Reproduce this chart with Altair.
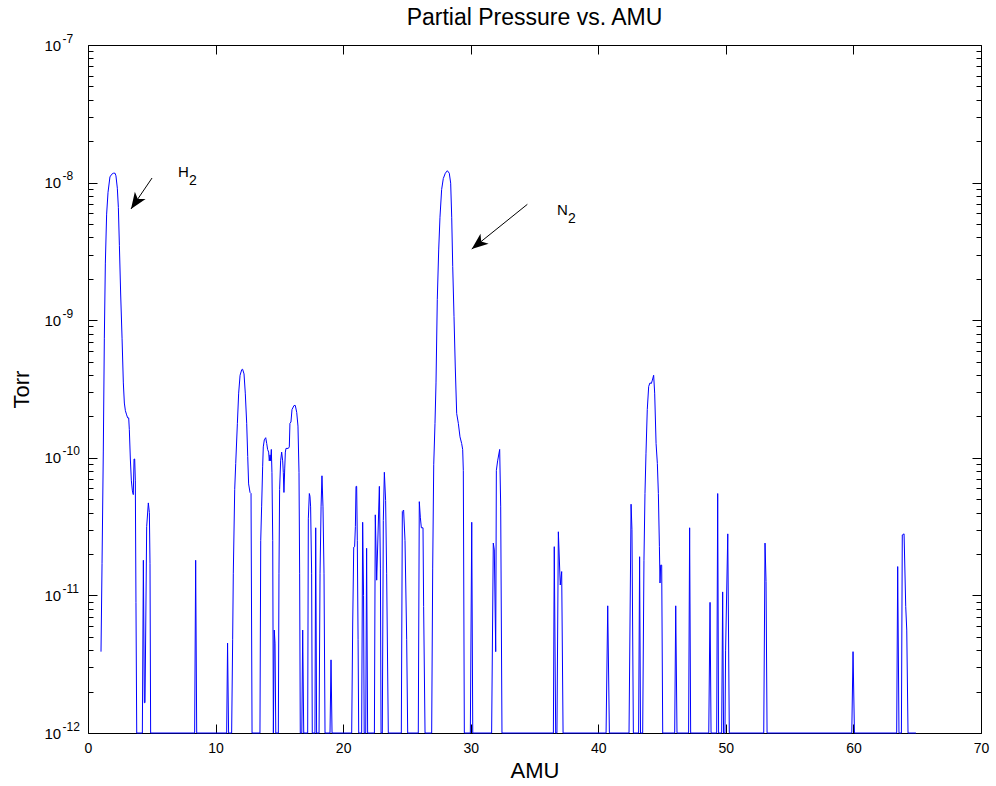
import math
import altair as alt
import pandas as pd

# ---- spectrum (AMU, partial pressure in Torr) ----
amu = [
    1.02, 1.10, 1.20, 1.28, 1.36, 1.46, 1.57, 1.72, 1.86, 1.99, 2.12, 2.19, 2.30, 2.38, 2.46, 2.56,
    2.67, 2.77, 2.85, 2.93, 3.03, 3.11, 3.19, 3.24, 3.32, 3.40, 3.48, 3.55, 3.61, 3.66, 3.71, 3.76, 3.82,
    4.26, 4.34, 4.42, 4.47, 4.60, 4.73, 4.81, 4.86, 4.91,
    8.36, 8.44, 8.52,
    10.87, 10.94, 11.02,
    11.26, 11.34, 11.39, 11.50, 11.58, 11.71, 11.81, 11.92, 12.05, 12.12, 12.23, 12.33, 12.44, 12.52,
    12.59, 12.70, 12.78, 12.86,
    13.48, 13.54, 13.61, 13.69, 13.74, 13.82, 13.93, 14.01, 14.08, 14.16, 14.21, 14.27, 14.32, 14.37,
    14.42, 14.48, 14.53, 14.60, 14.66, 14.72,
    14.92, 14.97, 15.02, 15.10, 15.18, 15.26, 15.31, 15.36, 15.42, 15.47, 15.52, 15.70, 15.78, 15.83,
    15.91, 15.99, 16.15, 16.25, 16.36, 16.46, 16.54, 16.59, 16.64,
    16.76, 16.83, 16.91,
    17.22, 17.27, 17.35, 17.40, 17.45, 17.53, 17.58,
    17.79, 17.85, 17.92,
    18.11, 18.19, 18.27, 18.34, 18.42, 18.50, 18.58,
    18.97, 19.05, 19.13,
    20.67, 20.75, 20.83, 20.90, 20.96, 21.01, 21.06, 21.11, 21.17, 21.22,
    21.45, 21.53, 21.60, 21.65,
    21.77, 21.84, 21.92,
    22.45, 22.52, 22.63, 22.84, 22.92, 22.97,
    23.07, 23.15, 23.23, 23.33, 23.41, 23.54,
    24.56, 24.64, 24.74, 24.85, 24.98, 25.06,
    25.89, 25.97, 26.05, 26.13, 26.26, 26.31, 26.42,
    26.94, 27.02, 27.10, 27.20, 27.28, 27.38, 27.49, 27.59, 27.72, 27.85, 28.01, 28.17, 28.32, 28.43,
    28.51, 28.59, 28.69, 28.79, 28.90, 29.03, 29.16, 29.29, 29.37, 29.42, 29.50,
    29.97, 30.08, 30.16,
    31.64, 31.77, 31.85, 31.96, 32.01, 32.11, 32.27, 32.35, 32.45,
    36.48, 36.55, 36.66,
    36.76, 36.87, 37.02, 37.13, 37.24,
    40.61, 40.74, 40.87,
    42.41, 42.57, 42.64, 42.75,
    43.16, 43.24, 43.31,
    43.48, 43.58, 43.66, 43.74, 43.84, 43.95, 44.05, 44.16, 44.24, 44.34, 44.42, 44.53, 44.63, 44.71,
    44.79, 44.84, 44.89, 44.97, 45.05,
    45.99, 46.07, 46.17,
    47.08, 47.16, 47.24,
    48.66, 48.76, 48.84,
    49.28, 49.36, 49.43,
    49.67, 49.75, 49.82,
    49.93, 49.98, 50.15, 50.27,
    52.97, 53.07, 53.15, 53.23,
    59.87, 59.97, 60.08,
    63.39, 63.47, 63.57,
    63.76, 63.83, 63.97, 64.10, 64.18, 64.28,
    64.90,
]
torr = [
    3.9e-12, 1.7e-11, 1.12e-10, 7.4e-10, 2.6e-9, 5.9e-9, 8.5e-9, 1.10e-8, 1.15e-8, 1.17e-8, 1.17e-8, 1.12e-8, 9.1e-9, 6.6e-9, 3.5e-9, 1.55e-9,
    7.4e-10, 3.5e-10, 2.5e-10, 2.2e-10, 2.05e-10, 1.95e-10, 1.95e-10, 1.6e-10, 9.8e-11, 6.8e-11, 5.75e-11, 5.4e-11, 9.8e-11, 9.8e-11, 6.8e-11, 8.9e-12, 1e-12,
    1e-12, 1.8e-11, 1.66e-12, 1.66e-12, 3.16e-11, 4.7e-11, 4.0e-11, 1.7e-11, 1e-12,
    1e-12, 1.8e-11, 1e-12,
    1e-12, 4.5e-12, 1e-12,
    1e-12, 4.8e-12, 1.45e-11, 5.9e-11, 9.1e-11, 1.78e-10, 2.95e-10, 3.98e-10, 4.37e-10, 4.4e-10, 4.07e-10, 2.95e-10, 1.78e-10, 1.02e-10,
    6.46e-11, 5.6e-11, 5.5e-11, 1e-12,
    1e-12, 2.5e-11, 4.4e-11, 8.6e-11, 1.2e-10, 1.35e-10, 1.4e-10, 1.27e-10, 1.15e-10, 1.1e-10, 9.5e-11, 1.05e-10, 9.5e-11, 1.15e-10,
    7.8e-11, 2.5e-11, 1e-12, 5.6e-12, 4.5e-12, 1e-12,
    1e-12, 1.45e-11, 5.9e-11, 9.5e-11, 1.1e-10, 9.5e-11, 7.8e-11, 5.6e-11, 8.3e-11, 1.1e-10, 1.17e-10, 1.17e-10, 1.2e-10, 1.78e-10,
    1.82e-10, 2.24e-10, 2.4e-10, 2.4e-10, 2.14e-10, 1.7e-10, 7.8e-11, 1.45e-11, 1e-12,
    1e-12, 5.6e-12, 1e-12,
    1e-12, 3.6e-11, 5.5e-11, 5.25e-11, 4.4e-11, 1.45e-11, 1e-12,
    1e-12, 3.1e-11, 1e-12,
    1e-12, 1.45e-11, 4.4e-11, 7.4e-11, 4.4e-11, 1.45e-11, 1e-12,
    1e-12, 3.4e-12, 1e-12,
    1e-12, 6.3e-12, 2.24e-11, 2.26e-11, 3.16e-11, 6.2e-11, 6.2e-11, 2.5e-11, 4.8e-12, 1e-12,
    1e-12, 3.4e-11, 1e-11, 1e-12,
    1e-12, 2.2e-11, 1e-12,
    1e-12, 3.85e-11, 1.29e-11, 6.2e-11, 1.58e-11, 1e-12,
    1e-12, 3.5e-11, 7.85e-11, 4.9e-11, 1.45e-11, 1e-12,
    1e-12, 4.07e-11, 4.17e-11, 2.5e-11, 4.8e-12, 1e-12,
    1e-12, 4.8e-11, 3.7e-11, 3.1e-11, 3.1e-11, 8.3e-12, 1e-12,
    1e-12, 1.58e-11, 8.9e-11, 1.78e-10, 3.5e-10, 1.41e-9, 3.24e-9, 5.6e-9, 8.9e-9, 1.07e-8, 1.17e-8, 1.22e-8, 1.17e-8, 9.9e-9,
    5.6e-9, 2.45e-9, 1.06e-9, 4.57e-10, 2.1e-10, 1.78e-10, 1.42e-10, 1.27e-10, 1.15e-10, 8.1e-11, 1e-12,
    1e-12, 3.4e-11, 1e-12,
    1e-12, 2.4e-11, 2.14e-11, 3.9e-12, 8.1e-11, 9.5e-11, 1.15e-10, 4.4e-11, 1e-12,
    1e-12, 2.26e-11, 1e-12,
    1e-12, 2.9e-11, 1.19e-11, 1.49e-11, 1e-12,
    1e-12, 8.4e-12, 1e-12,
    1e-12, 4.6e-11, 3.0e-11, 1e-12,
    1e-12, 1.91e-11, 1e-12,
    1e-12, 1.8e-11, 5.5e-11, 1.08e-10, 2.24e-10, 3.3e-10, 3.5e-10, 3.47e-10, 3.67e-10, 3.98e-10, 2.95e-10, 1.27e-10, 9.1e-11, 5.5e-11,
    2.26e-11, 1.23e-11, 1.66e-11, 1.66e-11, 1e-12,
    1e-12, 8.4e-12, 1e-12,
    1e-12, 3.1e-11, 1e-12,
    1e-12, 8.9e-12, 1e-12,
    1e-12, 5.5e-11, 1e-12,
    1e-12, 1.06e-11, 1e-12,
    1e-12, 4.0e-12, 2.8e-11, 1e-12,
    1e-12, 2.4e-11, 1.26e-11, 1e-12,
    1e-12, 3.9e-12, 1e-12,
    1e-12, 1.62e-11, 1e-12,
    1e-12, 2.75e-11, 2.8e-11, 8.3e-12, 5.6e-12, 1e-12,
    1e-12,
]

# ---- annotations ----
label_text = ["H", "N"]
label_sub = ["2", "2"]
label_amu = [7.05, 36.76]
label_torr = [1.10e-8, 5.8e-9]
arrow_from_amu = [5.02, 34.44]
arrow_from_torr = [1.08e-8, 6.95e-9]
arrow_to_amu = [3.37, 30.08]
arrow_to_torr = [6.43e-9, 3.29e-9]

# ---- axes ----
x_ticks = [0, 10, 20, 30, 40, 50, 60, 70]
y_decades = [1e-12, 1e-11, 1e-10, 1e-9, 1e-8, 1e-7]
y_minor = [m * d for d in y_decades[:-1] for m in range(2, 10)]
X_DOM = [0, 70]
Y_DOM = [1e-12, 1e-7]

W, H = 893, 688
FONT = "Liberation Sans"


def sx(a):
    return (a - X_DOM[0]) / (X_DOM[1] - X_DOM[0]) * W


def sy(p):
    lo, hi = math.log10(Y_DOM[0]), math.log10(Y_DOM[1])
    return (hi - math.log10(p)) / (hi - lo) * H


angles = []
for x0, y0, x1, y1 in zip(arrow_from_amu, arrow_from_torr, arrow_to_amu, arrow_to_torr):
    dx = sx(x1) - sx(x0)
    dy = sy(y1) - sy(y0)
    angles.append(math.degrees(math.atan2(dx, -dy)) % 360)

spec = pd.DataFrame({"amu": amu, "torr": torr})
ann = pd.DataFrame({
    "text": label_text, "sub": label_sub, "lx": label_amu, "ly": label_torr,
    "fx": arrow_from_amu, "fy": arrow_from_torr, "tx": arrow_to_amu, "ty": arrow_to_torr,
    "angle": angles,
})

xs = alt.Scale(domain=X_DOM, nice=False, zero=False)
ys = alt.Scale(type="log", domain=Y_DOM, nice=False)

common = dict(grid=False, domain=False, tickColor="black", tickWidth=1,
              labelColor="black", labelFont=FONT, titleFont=FONT,
              titleColor="black", titleFontWeight="normal")

line = alt.Chart(spec).mark_line(color="#0000ff", strokeWidth=1).encode(
    x=alt.X("amu:Q", scale=xs, axis=alt.Axis(
        orient="bottom", values=x_ticks, format="d", title="AMU",
        offset=-9, tickSize=9, labelPadding=8, labelFontSize=14,
        labelFlush=False, labelOverlap=False, titleFontSize=22,
        titlePadding=22, titleBaseline="alphabetic", **common)),
    y=alt.Y("torr:Q", scale=ys, axis=alt.Axis(
        orient="left", values=y_decades, labelExpr="'10'", labelAlign="left",
        labelBaseline="middle", labelPadding=44, labelFontSize=15,
        labelOverlap=False, offset=-9, tickSize=9, title="Torr",
        titleFontSize=22, titlePadding=16, titleBaseline="alphabetic", **common)),
)

shafts = alt.Chart(ann).mark_rule(color="black", strokeWidth=1).encode(
    x=alt.X("fx:Q", scale=xs, axis=alt.Axis(
        orient="top", values=x_ticks, labels=False, title=None,
        offset=-9, tickSize=9, **common)),
    y=alt.Y("fy:Q", scale=ys, axis=alt.Axis(
        orient="left", values=y_minor, labels=False, title=None,
        offset=-5, tickSize=5, **common)),
    x2="tx:Q",
    y2="ty:Q",
)

HEAD = "M0,0 L0.75,1.9 L0,1.4 L-0.75,1.9 Z"
heads = alt.Chart(ann).mark_point(shape=HEAD, filled=True, color="black",
                                   size=300, opacity=1).encode(
    x=alt.X("tx:Q", scale=xs, axis=None),
    y=alt.Y("ty:Q", scale=ys, axis=alt.Axis(
        orient="right", values=y_decades, labels=False, title=None,
        offset=-9, tickSize=9, **common)),
    angle=alt.Angle("angle:Q", scale=None),
)

labels = alt.Chart(ann).mark_text(align="left", baseline="alphabetic",
                                  fontSize=15, font=FONT, color="black").encode(
    x=alt.X("lx:Q", scale=xs, axis=None),
    y=alt.Y("ly:Q", scale=ys, axis=alt.Axis(
        orient="right", values=y_minor, labels=False, title=None,
        offset=-5, tickSize=5, **common)),
    text="text:N",
)

subs = alt.Chart(ann).mark_text(align="left", baseline="alphabetic",
                                fontSize=14, font=FONT, color="black",
                                dx=11, dy=8).encode(
    x=alt.X("lx:Q", scale=xs, axis=None),
    y=alt.Y("ly:Q", scale=ys, axis=alt.Axis(
        orient="left", values=y_decades, ticks=False, tickSize=0,
        labelExpr="'-' + round(-log(datum.value) / LN10)",
        labelAlign="left", labelBaseline="middle", labelPadding=26,
        labelFontSize=12, labelOffset=-7, labelOverlap=False, title=None,
        **common)),
    text="sub:N",
)

chart = alt.layer(line, shafts, heads, labels, subs).resolve_axis(
    x="independent", y="independent"
).properties(
    width=W,
    height=H,
    title=alt.TitleParams("Partial Pressure vs. AMU", fontSize=23, font=FONT,
                          fontWeight="normal", color="black", anchor="middle",
                          frame="group", offset=-21, baseline="bottom"),
    autosize=alt.AutoSizeParams(type="none"),
    padding={"left": 88, "top": 45, "right": 15, "bottom": 53},
    background="white",
).configure_view(stroke="black", strokeWidth=1)

chart.save("out.html", embed_options={"renderer": "svg", "actions": False})
